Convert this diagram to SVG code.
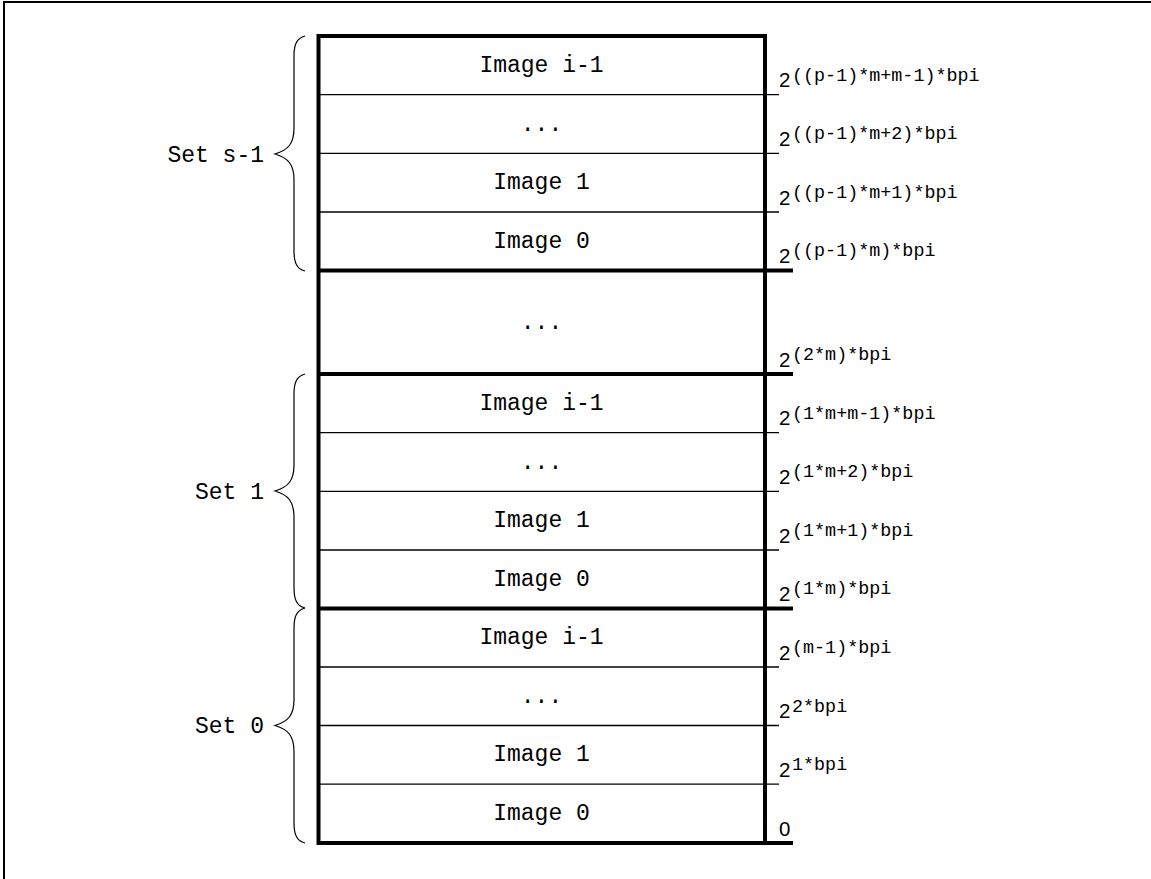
<svg xmlns="http://www.w3.org/2000/svg" width="1151" height="879" viewBox="0 0 1151 879">
<style>
.t{font-family:"Liberation Mono","Courier New",monospace;font-size:23px;fill:#000;text-anchor:middle}
.s{font-family:"Liberation Mono","Courier New",monospace;font-size:23px;fill:#000;text-anchor:end}
.b{font-family:"Liberation Sans",Arial,sans-serif;font-size:20.5px;fill:#000}
.p{font-family:"Liberation Mono","Courier New",monospace;font-size:18.4px;fill:#000}
.thin{stroke:#000;stroke-width:1.3;fill:none}
.thick{stroke:#000;stroke-width:4;fill:none}
.brace{stroke:#000;stroke-width:1.2;fill:none}
</style>
<rect x="0" y="0" width="1151" height="879" fill="#fff"/>
<rect x="4" y="2" width="1160" height="890" fill="none" stroke="#000" stroke-width="2"/>
<g id="memory">
<rect x="318.5" y="36" width="446.5" height="807" class="thick"/>
</g>
<g id="set-s-1">
<line x1="318" y1="94.7" x2="779" y2="94.7" class="thin"/>
<line x1="318" y1="153.3" x2="779" y2="153.3" class="thin"/>
<line x1="318" y1="212" x2="779" y2="212" class="thin"/>
<line x1="318" y1="270.5" x2="793" y2="270.5" class="thick"/>
<text class="t" x="541.5" y="71.7">Image i-1</text>
<text class="t" x="541.5" y="130.5">...</text>
<text class="t" x="541.5" y="189">Image 1</text>
<text class="t" x="541.5" y="247.5">Image 0</text>
</g>
<g id="gap">
<line x1="318" y1="374" x2="793" y2="374" class="thick"/>
<text class="t" x="541.5" y="328.5">...</text>
</g>
<g id="set-1">
<line x1="318" y1="432.7" x2="779" y2="432.7" class="thin"/>
<line x1="318" y1="491.3" x2="779" y2="491.3" class="thin"/>
<line x1="318" y1="550" x2="779" y2="550" class="thin"/>
<line x1="318" y1="608.5" x2="793" y2="608.5" class="thick"/>
<text class="t" x="541.5" y="409.5">Image i-1</text>
<text class="t" x="541.5" y="468.5">...</text>
<text class="t" x="541.5" y="527">Image 1</text>
<text class="t" x="541.5" y="585.5">Image 0</text>
</g>
<g id="set-0">
<line x1="318" y1="667" x2="779" y2="667" class="thin"/>
<line x1="318" y1="725.5" x2="779" y2="725.5" class="thin"/>
<line x1="318" y1="784.2" x2="779" y2="784.2" class="thin"/>
<line x1="763" y1="843" x2="793" y2="843" class="thick"/>
<text class="t" x="541.5" y="644">Image i-1</text>
<text class="t" x="541.5" y="702.5">...</text>
<text class="t" x="541.5" y="761">Image 1</text>
<text class="t" x="541.5" y="819.5">Image 0</text>
</g>
<g id="connectors">
<path class="brace" d="M305,36 C297,38 294,44 294,56 L294,128 C294,144 288,150 275,154 C288,158 294,164 294,180 L294,251 C294,263 297,269 305,271"/>
<path class="brace" d="M305,374 C297,376 294,382 294,394 L294,465 C294,481 288,487 275,491 C288,495 294,501 294,517 L294,588 C294,600 297,606 305,608"/>
<path class="brace" d="M305,608 C297,610 294,616 294,628 L294,699.5 C294,715.5 288,721.5 275,725.5 C288,729.5 294,735.5 294,751.5 L294,823 C294,835 297,841 305,843"/>
</g>
<g id="set-labels">
<text class="s" x="264" y="162.3">Set s-1</text>
<text class="s" x="264" y="498.5">Set 1</text>
<text class="s" x="264" y="733.3">Set 0</text>
</g>
<g id="addresses">
<text class="b" x="779" y="87.3">2<tspan class="p" x="792" dy="-6.6">((p-1)*m+m-1)*bpi</tspan></text>
<text class="b" x="779" y="146">2<tspan class="p" x="792" dy="-6.6">((p-1)*m+2)*bpi</tspan></text>
<text class="b" x="779" y="204.5">2<tspan class="p" x="792" dy="-6.6">((p-1)*m+1)*bpi</tspan></text>
<text class="b" x="779" y="263">2<tspan class="p" x="792" dy="-6.6">((p-1)*m)*bpi</tspan></text>
<text class="b" x="779" y="366.7">2<tspan class="p" x="792" dy="-6.6">(2*m)*bpi</tspan></text>
<text class="b" x="779" y="425.3">2<tspan class="p" x="792" dy="-6.6">(1*m+m-1)*bpi</tspan></text>
<text class="b" x="779" y="484">2<tspan class="p" x="792" dy="-6.6">(1*m+2)*bpi</tspan></text>
<text class="b" x="779" y="542.5">2<tspan class="p" x="792" dy="-6.6">(1*m+1)*bpi</tspan></text>
<text class="b" x="779" y="601">2<tspan class="p" x="792" dy="-6.6">(1*m)*bpi</tspan></text>
<text class="b" x="779" y="659.7">2<tspan class="p" x="792" dy="-6.6">(m-1)*bpi</tspan></text>
<text class="b" x="779" y="718.3">2<tspan class="p" x="792" dy="-6.6">2*bpi</tspan></text>
<text class="b" x="779" y="777">2<tspan class="p" x="792" dy="-6.6">1*bpi</tspan></text>
<text class="b" x="779" y="836">0</text>
</g>
</svg>
